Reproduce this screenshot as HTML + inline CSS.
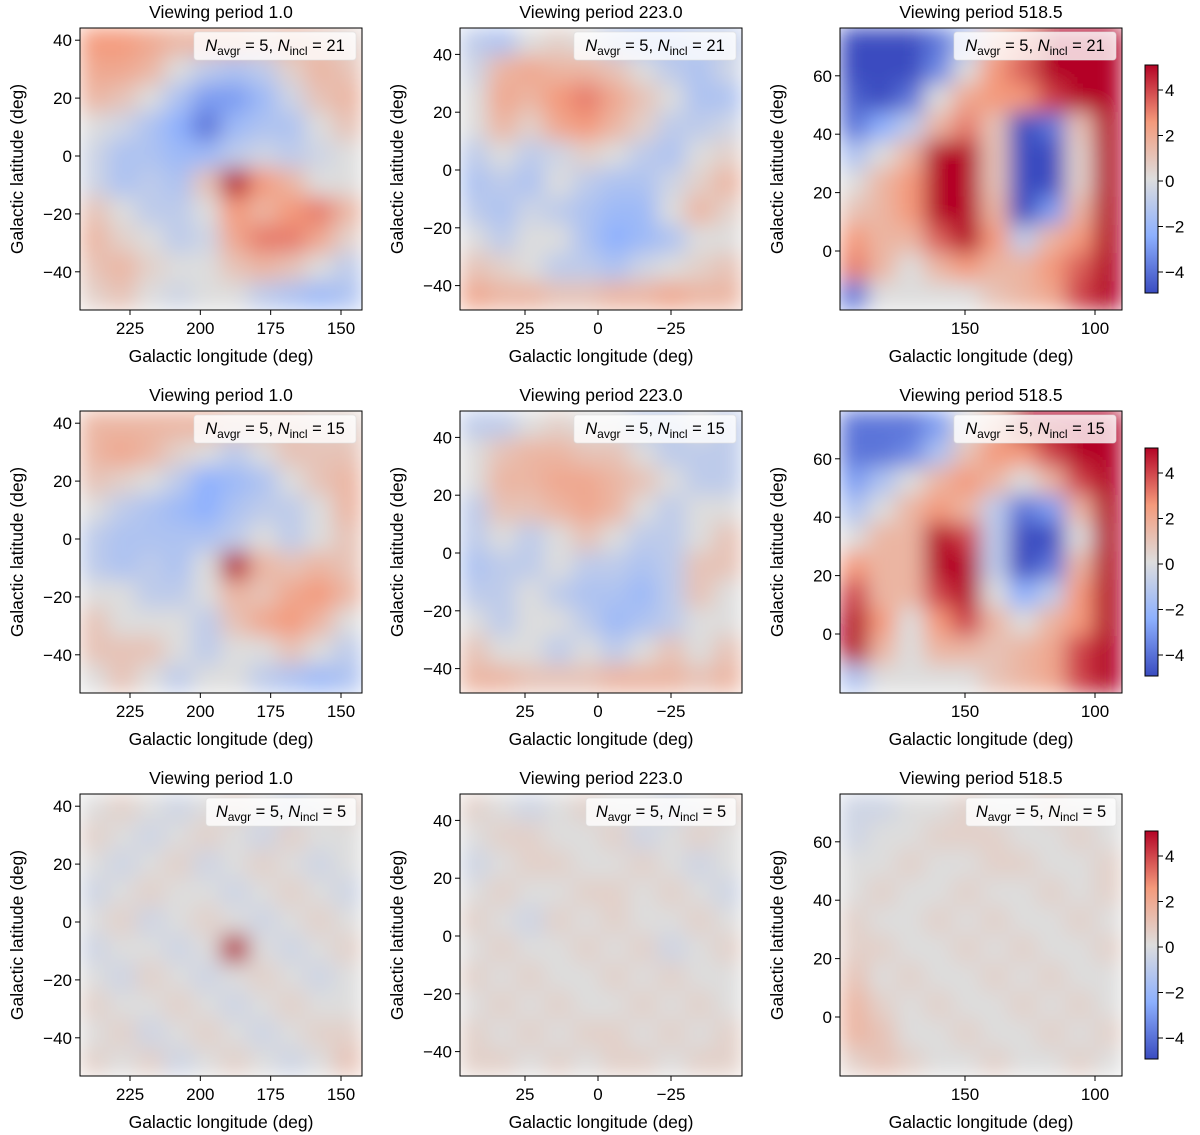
<!DOCTYPE html>
<html><head><meta charset="utf-8">
<style>
body{margin:0;background:#fff;}
svg{display:block;font-family:"Liberation Sans","DejaVu Sans",sans-serif;}
</style></head>
<body>
<svg id="fig" width="1200" height="1135" viewBox="0 0 1200 1135">
<defs>
<filter id="sm" x="0" y="0" width="1" height="1"><feGaussianBlur stdDeviation="11" edgeMode="duplicate"/></filter>
</defs>
</svg>
<script>
// ---- data (10x10 grids, top row first) ----
const titles=["Viewing period 1.0","Viewing period 223.0","Viewing period 518.5"];
const nIncl=[21,15,5];
const colXTicks=[[225,200,175,150],[25,0,-25],[150,100]];
const colXTickLabels=[["225","200","175","150"],["25","0","\u221225"],["150","100"]];
const colYTicks=[[40,20,0,-20,-40],[40,20,0,-20,-40],[60,40,20,0]];
const colYTickLabels=[["40","20","0","\u221220","\u221240"],["40","20","0","\u221220","\u221240"],["60","40","20","0"]];
const cbTicks=[4,2,0,-2,-4];
const cbTickLabels=["4","2","0","\u22122","\u22124"];
const p11=[[2.5,2.5,2,1.5,1.5,1.5,1,1.5,1,0.5],[2,2,1.5,0,-1,-1.5,-1,0.5,1.5,1],[1.5,1,0,-1.5,-3,-3,-2,-0.5,1,1.5],[0,-0.5,-1.5,-2.5,-4,-2,-1.5,-1.5,0,1],[-0.5,-1.5,-1.5,-2,-2,-1,-0.5,-1,-0.5,0],[-0.5,-1.5,-1,-1.5,1,8,2.5,1.5,0,0],[1,0,-1,-1,0,2.5,1.5,2.5,3,1.5],[1.5,0.5,0,-1,-0.5,2,3,3,2,0.5],[1,1.5,0.5,0,0,1,1.5,1,0,-1],[0.5,1,0,-0.5,0,0,-1,-1.5,-2,-1.5]];
const p12=[[-1,-1.5,0,0.5,0,-1,-1.5,-1.5,-1,-1],[-0.5,1.5,2,1.5,1.5,1,0,-1,-1.5,-0.5],[0,2,1.5,2.5,3,2,1,0,-1.5,-1.5],[0,1.5,0.5,2,2.5,1.5,0.5,-1,-1,-0.5],[-1,0,-1,-0.5,0.5,0,-1,-1.5,0,0.5],[-1.5,-1,-1.5,0,-1,-1.5,-1.5,-0.5,0.5,1.5],[-1,-1.5,-0.5,-1,-1.5,-2,-2,0,1.5,0.5],[0,-1,0,0,-1.5,-2.5,-2,-1.5,0,0],[1,0.5,0,-1,-1,-1.5,-0.5,0,0.5,1],[2,1.5,1.5,1,1,1.5,1.5,2,1.5,1.5]];
const p13=[[-5,-5,-5,-4,-1.5,1.5,3,6,6,6],[-5,-5,-5,-3.5,0,2.5,3.5,6,6,6],[-4.5,-5,-4,0,2,2.5,2.5,4,6,6],[-4,-2.5,-1,1.5,3,1,-5,-4,1,6],[-1.5,0,1.5,6,5,1,-6,-5,0.5,6],[0,1.5,2.5,6,6,1,-6,-5,0.5,6],[1,1.5,2.5,6,6,1.5,-5,-3,1.5,6],[2.5,1.5,1.5,3.5,6,2.5,-1,1.5,2.5,6],[3,1.5,0,1.5,2.5,1.5,1.5,2.5,3.5,6],[-4,0,0,0,0,1,1.5,2,4,6]];
const p21=[[1.5,1.5,1.5,1.5,1.5,1,1,1,0.5,0.5],[1.5,2,1.5,0.5,0,-1,0,1,1,1],[1,0.5,0,-1,-2.5,-2,-1.5,0,1,1.5],[0,-1,-1.5,-2,-2.5,-1.5,-1,-1,0,1.5],[-1,-1.5,-1.5,-1.5,-1.5,-1,0,-1,0,1],[-1,-1.5,-1,-1.5,0,8,1.5,1,1.5,1],[0,0,-1,-1,0,1.5,1,2,2.5,1.5],[1,0,0,0,-1,1,2,2.5,1.5,0],[1,1,1,0,-1,0,0,1,0,-1],[0,1,0,-1,0,0,-1,-1.5,-2,-1.5]];
const p22=[[-1,-1,0,0.5,0,0,-1,-1,0,-1],[0,1,1.5,1.5,1,1,0,-1,-1,-1],[0,1.5,1.5,2,2,1.5,1,0,-1,-1],[-1,1,1,1.5,2,1.5,0,-1,0,0],[-1,0,-1,0,1,0,-1,-1,0,1],[-1.5,-1,-1,0,-1,-1,-1.5,-1,1,1],[-1,-1,0,-1,-1.5,-1.5,-2,-1,1,0],[0,-1,0,0,-1,-2,-1.5,-1,0,0],[1,0,0,-1,0,-1,0,1,0,1],[1.5,1.5,1,1,1,1.5,1.5,1.5,1,1.5]];
const p23=[[-4,-4,-4,-3,0,1.5,5,6,6,6],[-4,-4,-3.5,-1.5,1,2.5,2.5,4,5,6],[-3,-1.5,0,1.5,2.5,1.5,0,1.5,4,6],[-1.5,0,1.5,2.5,1.5,-1,-4,-3,1.5,6],[0,1.5,1.5,5,4,-1,-6,-5,0,6],[2.5,1.5,1.5,5,6,-1,-6,-4,1.5,6],[4,1.5,1.5,4,5,0,-2.5,-1,2.5,6],[5,2.5,0,2.5,4,1.5,0,1.5,2.5,6],[5,1.5,0,1.5,1.5,1,1.5,2,4,6],[-1.5,0,0,0,0,1,1.5,2,4,5]];
const p31=[[0,0.5,0,-0.5,0,0.5,0,-0.5,0,0.5],[0.5,0,-0.5,0,0.5,0,-0.5,0.5,0,0],[0,-0.5,0,0.5,-0.5,0,0.5,0,-0.5,0],[-0.5,0,0.5,0,0,-0.5,0,0.5,0,-0.5],[0,0.5,-0.5,0,0.5,0,-0.5,0,0.5,0],[-0.5,0,0,-0.5,0,9,0,-0.5,0,0.5],[0,-0.5,0.5,0,-0.5,0,0.5,0,-0.5,0],[0.5,0,0,0.5,0,-0.5,0,0.5,0,0],[0,0.5,-0.5,0,0.5,0,-0.5,0,0.5,0.5],[0.5,0,0.5,-0.5,0,0.5,0,-0.5,0,1]];
const p32=[[0.5,0,-0.5,0,0.5,0,0,-0.5,0,0.5],[0,0.5,0.5,0,0,0.5,-0.5,0,0.5,0],[-0.5,0,0.5,0.5,0,0,0.5,0,-0.5,0],[0,0.5,0,0,0.5,0.5,0,0.5,0,-0.5],[0.5,0,-0.5,0.5,0,0.5,0,0,0.5,0],[0,0.5,0,0,0.5,0,0.5,-0.5,0,0.5],[0.5,0,0.5,0,0,0.5,0,0.5,0,0],[0,0.5,0,0.5,0,0,0.5,0,0.5,0],[0.5,0,0.5,0,0.5,0.5,0,0.5,0,0.5],[0.5,0.5,0,0.5,0,0.5,0.5,0,0.5,0.5]];
const p33=[[-0.5,-0.5,0,0,0.5,0,0,0.5,0,0],[-0.5,0,0,0.5,0.5,0.5,0,0,0.5,0],[0,0,0.5,0,0,0.5,0.5,0,0,0.5],[0,0.5,0,0,0.5,0,0,0.5,0,0.5],[0.5,0,0,0.5,0,0.5,0,0,0.5,0],[0.5,0.5,0,0,0.5,0,0.5,0,0,0.5],[1,0,0.5,0,0,0.5,0,0.5,0,0],[1.5,0.5,0,0.5,0,0,0.5,0,0.5,0],[1.5,1,0,0,0.5,0,0,0.5,0,0.5],[0.5,1,0.5,0,0,0.5,0,0,0.5,0]];
const grids=[[p11,p12,p13],[p21,p22,p23],[p31,p32,p33]];

// ---- layout ----
const NS="http://www.w3.org/2000/svg";
const fig=document.getElementById('fig');
const colX=[80,460,840], PW=282, rowY=[28,411,794];
const xAxis=[v=>130-80+(225-v)*(211/75), v=>598-460+(-v)*(73/25), v=>965-840+(150-v)*(130/50)];
const yAxis=[v=>156-28-v*2.895, v=>170-28-v*2.89, v=>251-28-v*2.92];
const cbY=v=>181+(-v)*(91/4);
const stops=[[-5,[58,76,192]],[-2.5,[141,176,254]],[0,[221,221,221]],[2.5,[244,154,123]],[5,[180,4,38]]];
function cmap(v){v=Math.max(-5,Math.min(5,v));for(let i=0;i<4;i++){const a=stops[i],b=stops[i+1];if(v<=b[0]){const t=(v-a[0])/(b[0]-a[0]);const c=a[1].map((x,k)=>Math.round(x+(b[1][k]-x)*t));return `rgb(${c})`;}}return 'rgb(180,4,38)';}
function el(tag,attrs,parent){const e=document.createElementNS(NS,tag);for(const k in attrs)e.setAttribute(k,attrs[k]);(parent||fig).appendChild(e);return e;}
function txt(s,attrs,parent){const t=el('text',attrs,parent);t.textContent=s;return t;}

for(let r=0;r<3;r++){for(let c=0;c<3;c++){
  const X=colX[c],Y=rowY[r];
  const g=el('g',{});
  
  
  const clip=el('clipPath',{id:'cl'+r+c},g);
  el('rect',{x:X,y:Y,width:PW,height:PW},clip);
  const hm=el('g',{'clip-path':`url(#cl${r}${c})`},g);
  const inner=el('g',{filter:'url(#sm)'},hm);
  const grid=grids[r][c],n=grid.length,cs=PW/n;
  for(let i=0;i<n;i++)for(let j=0;j<n;j++){
    const cell=el('rect',{x:X+j*cs-0.5,y:Y+i*cs-0.5,width:cs+1,height:cs+1,fill:cmap(grid[i][j])},inner);
    
    
  }
  const fr=el('rect',{x:X,y:Y,width:PW,height:PW,fill:'none',stroke:'#000','stroke-width':1},g);
  
  
  colXTicks[c].forEach((v,k)=>{const px=X+xAxis[c](v);
    el('line',{x1:px,x2:px,y1:Y+PW,y2:Y+PW+5,stroke:'#000'},g);
    const t=txt(colXTickLabels[c][k],{x:px,y:Y+PW+24,'font-size':17,'text-anchor':'middle'},g);
    
    });
  colYTicks[c].forEach((v,k)=>{const py=Y+yAxis[c](v);
    el('line',{x1:X-5,x2:X,y1:py,y2:py,stroke:'#000'},g);
    const t=txt(colYTickLabels[c][k],{x:X-8,y:py+6,'font-size':17,'text-anchor':'end'},g);
    
    });
  const tt=txt(titles[c],{x:X+PW/2,y:Y-10,'font-size':17.5,'text-anchor':'middle'},g);
  
  
  const xl=txt('Galactic longitude (deg)',{x:X+PW/2,y:Y+PW+52,'font-size':17.5,'text-anchor':'middle'},g);
  
  
  const ylx=X-62;
  const yl=txt('Galactic latitude (deg)',{x:0,y:0,'font-size':17.5,'text-anchor':'middle',transform:`translate(${ylx+5},${Y+PW/2}) rotate(-90)`},g);
  
  
  const lw=nIncl[r]>9?162:150;
  const lg=el('g',{},g);
  
  
  el('rect',{x:X+PW-lw-6,y:Y+4,width:lw,height:28,rx:3,fill:'#fff','fill-opacity':0.8,stroke:'#ddd','stroke-opacity':0.6},lg);
  const lt=el('text',{x:X+PW-lw-6+lw/2,y:Y+23,'font-size':16.5,'text-anchor':'middle'},lg);
  lt.innerHTML=`<tspan font-style="italic">N</tspan><tspan font-size="12" dy="4">avgr</tspan><tspan dy="-4"> = 5, </tspan><tspan font-style="italic">N</tspan><tspan font-size="12" dy="4">incl</tspan><tspan dy="-4"> = ${nIncl[r]}</tspan>`;
}
  const off=rowY[r]-28, cx=1145, top=65+off, bot=293+off;
  const cb=el('g',{});
  
  
  const gid='cbg'+r;
  const lgd=el('linearGradient',{id:gid,x1:0,y1:1,x2:0,y2:0},cb);
  stops.forEach(s=>el('stop',{offset:(s[0]+5)/10,'stop-color':`rgb(${s[1]})`},lgd));
  el('rect',{x:cx,y:top,width:13,height:bot-top,fill:`url(#${gid})`,stroke:'#000'},cb);
  cbTicks.forEach((v,k)=>{const py=cbY(v)+off;
    el('line',{x1:cx+13,x2:cx+18,y1:py,y2:py,stroke:'#000'},cb);
    const t=txt(cbTickLabels[k],{x:cx+20,y:py+6,'font-size':17},cb);
    
    });
}
</script>
</body></html>
